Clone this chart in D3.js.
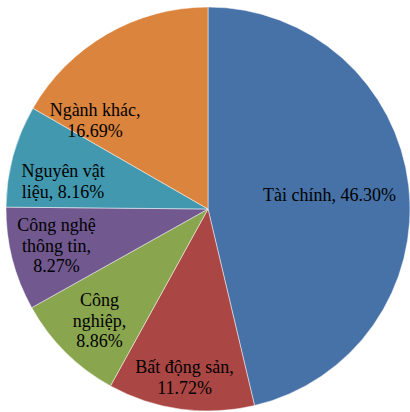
<!DOCTYPE html>
<html>
<head>
<meta charset="utf-8">
<script src="https://cdn.jsdelivr.net/npm/d3@7"></script>
<style>
  body { margin: 0; background: #fff; }
  svg text { font-family: "Liberation Serif", serif; font-size: 18px; }
</style>
</head>
<body>
<script>
const sectors = ["Tài chính", "Bất động sản", "Công nghiệp", "Công nghệ thông tin", "Nguyên vật liệu", "Ngành khác"];
const shares = [46.30, 11.72, 8.86, 8.27, 8.16, 16.69];
const labelLines = [
  ["Tài chính, 46.30%"],
  ["Bất động sản,", "11.72%"],
  ["Công", "nghiệp,", "8.86%"],
  ["Công nghệ", "thông tin,", "8.27%"],
  ["Nguyên vật", "liệu, 8.16%"],
  ["Ngành khác,", "16.69%"]
];
const colors = ["#4672a8", "#aa4643", "#89a54e", "#71588f", "#4198af", "#db843d"];

const width = 410, height = 412;
const cx = 208, cy = 209, radius = 202;

// label placement, excel "best fit" style: [fraction along the slice angle, fraction of radius]
const labelAt = [[0.5, 0.606], [0.504, 0.84], [0.482, 0.77], [0.528, 0.771], [0.347, 0.73], [0.136, 0.71]];

const svg = d3.select("body").append("svg")
  .attr("width", width)
  .attr("height", height);

const data = sectors.map((name, i) => ({ name, value: shares[i], i }));

const pie = d3.pie()
  .value(d => d.value)
  .sort(null);

const arcs = pie(data);

const arc = d3.arc().innerRadius(0).outerRadius(radius);

const g = svg.append("g").attr("transform", `translate(${cx},${cy})`);

g.selectAll("path")
  .data(arcs)
  .join("path")
  .attr("d", arc)
  .attr("fill", d => colors[d.data.i])
  .attr("stroke", "#fff")
  .attr("stroke-opacity", 0.6)
  .attr("stroke-width", 0.8);

const lineH = 20.7;
const label = g.selectAll("text")
  .data(arcs)
  .join("text")
  .attr("fill", "#000")
  .attr("text-anchor", "middle")
  .attr("transform", d => {
    const [t, f] = labelAt[d.data.i];
    const a = d.startAngle + t * (d.endAngle - d.startAngle);
    const r = radius * f;
    return `translate(${r * Math.sin(a)},${-r * Math.cos(a)})`;
  });

label.each(function (d) {
  const lines = labelLines[d.data.i];
  const t = d3.select(this);
  lines.forEach((s, k) => {
    t.append("tspan")
      .attr("x", 0)
      .attr("y", (k - (lines.length - 1) / 2) * lineH)
      .attr("dy", "0.35em")
      .text(s);
  });
});
</script>
</body>
</html>
